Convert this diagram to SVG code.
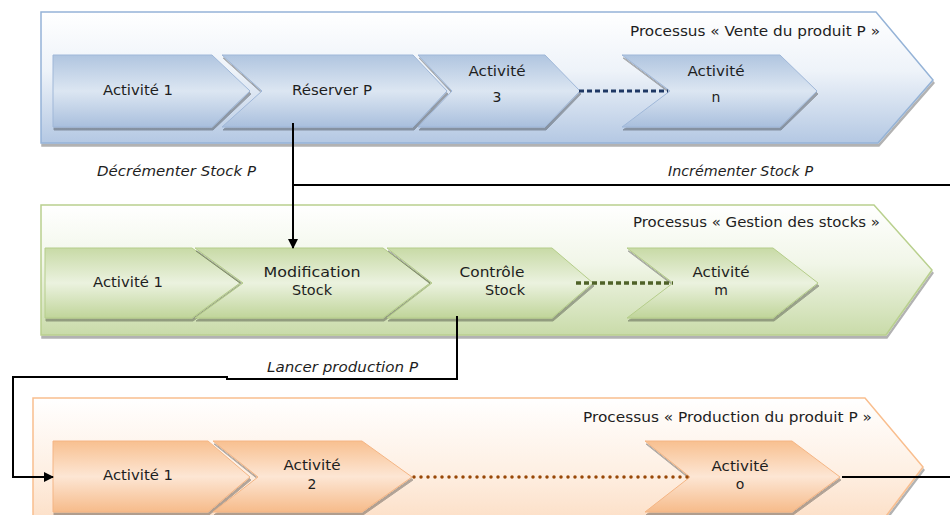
<svg xmlns="http://www.w3.org/2000/svg" width="950" height="515" viewBox="0 0 950 515">
<defs>
<linearGradient id="gBandB" x1="0" y1="0" x2="0" y2="1"><stop offset="0" stop-color="#ffffff"/><stop offset="0.45" stop-color="#eef3f9"/><stop offset="1" stop-color="#b4c8e3"/></linearGradient>
<linearGradient id="gBandG" x1="0" y1="0" x2="0" y2="1"><stop offset="0" stop-color="#ffffff"/><stop offset="0.45" stop-color="#f1f6e8"/><stop offset="1" stop-color="#c9dba9"/></linearGradient>
<linearGradient id="gBandO" x1="0" y1="0" x2="0" y2="1"><stop offset="0" stop-color="#ffffff"/><stop offset="0.5" stop-color="#fef0e4"/><stop offset="1" stop-color="#fcd9bc"/></linearGradient>
<linearGradient id="gChB" x1="0" y1="0" x2="0" y2="1"><stop offset="0" stop-color="#b0c5e0"/><stop offset="0.5" stop-color="#dce6f2"/><stop offset="1" stop-color="#a9bfdd"/></linearGradient>
<linearGradient id="gChG" x1="0" y1="0" x2="0" y2="1"><stop offset="0" stop-color="#c8daa6"/><stop offset="0.5" stop-color="#ebf2df"/><stop offset="1" stop-color="#c0d59a"/></linearGradient>
<linearGradient id="gChO" x1="0" y1="0" x2="0" y2="1"><stop offset="0" stop-color="#f8c090"/><stop offset="0.5" stop-color="#fde6d4"/><stop offset="1" stop-color="#f6bb8a"/></linearGradient>
<filter id="sh" x="-5%" y="-10%" width="110%" height="130%"><feDropShadow dx="1" dy="3" stdDeviation="0.6" flood-color="#000" flood-opacity="0.3"/></filter>
<marker id="ah" viewBox="0 0 10 10" refX="9" refY="5" markerWidth="10" markerHeight="10" markerUnits="userSpaceOnUse" orient="auto"><path d="M0,0 L10,5 L0,10 Z" fill="#000"/></marker>
</defs>
<style>
.bandB{fill:url(#gBandB);stroke:#95b3d7;stroke-width:1.5;filter:url(#sh)}
.bandG{fill:url(#gBandG);stroke:#b9d08e;stroke-width:1.5;filter:url(#sh)}
.bandO{fill:url(#gBandO);stroke:#f9be8e;stroke-width:1.5;filter:url(#sh)}
.chB{fill:url(#gChB);stroke:#9fb7d8;stroke-width:1;filter:url(#sh)}
.chG{fill:url(#gChG);stroke:#b5cd8a;stroke-width:1;filter:url(#sh)}
.chO{fill:url(#gChO);stroke:#f4b584;stroke-width:1;filter:url(#sh)}
text{font-family:"DejaVu Sans","Liberation Sans",sans-serif;font-size:14px;fill:#1e1e1e}
.c{text-anchor:middle}
.t{text-anchor:end}
.lab{font-style:italic}
.conn{fill:none;stroke:#000;stroke-width:2}
</style>

<g id="process-vente">
<path class="bandB" d="M41,12 H876 L933,80 L878,143 H41 Z"/>
<text class="t" x="880" y="36" textLength="250" lengthAdjust="spacingAndGlyphs">Processus « Vente du produit P »</text>
</g>
<g id="v-activite1"><path class="chB" d="M53,55 H212 L250,91 L212,127 H53 Z"/><text class="c" x="138" y="95" textLength="70" lengthAdjust="spacingAndGlyphs">Activité 1</text></g>
<g id="v-reserver"><path class="chB" d="M222,55 H413 L447,91 L413,127 H222 L262,91 Z"/><text class="c" x="332" y="95" textLength="80" lengthAdjust="spacingAndGlyphs">Réserver P</text></g>
<g id="v-activite3"><path class="chB" d="M418,55 H545 L580,91 L545,127 H418 L452,91 Z"/><text class="c" x="497" y="76" textLength="57" lengthAdjust="spacingAndGlyphs">Activité</text><text class="c" x="497" y="102">3</text></g>
<g id="v-activiten"><path class="chB" d="M622,55 H780 L817,91 L780,127 H622 L670,91 Z"/><text class="c" x="716" y="76" textLength="57" lengthAdjust="spacingAndGlyphs">Activité</text><text class="c" x="716" y="102">n</text></g>

<g id="process-stocks">
<path class="bandG" d="M41,205 H874 L932,270 L886,335 H41 Z"/>
<text class="t" x="880" y="227" textLength="247" lengthAdjust="spacingAndGlyphs">Processus « Gestion des stocks »</text>
</g>
<g id="s-activite1"><path class="chG" d="M45,248 H192 L240,283 L192,318 H45 Z"/><text class="c" x="128" y="287" textLength="70" lengthAdjust="spacingAndGlyphs">Activité 1</text></g>
<g id="s-modification"><path class="chG" d="M195,248 H383 L430,283 L383,318 H195 L243,283 Z"/><text class="c" x="312" y="277" textLength="97" lengthAdjust="spacingAndGlyphs">Modification</text><text class="c" x="312" y="295" textLength="40" lengthAdjust="spacingAndGlyphs">Stock</text></g>
<g id="s-controle"><path class="chG" d="M387,248 H552 L593,283 L552,318 H387 L432,283 Z"/><text class="c" x="492" y="277" textLength="65" lengthAdjust="spacingAndGlyphs">Contrôle</text><text class="c" x="505" y="295" textLength="40" lengthAdjust="spacingAndGlyphs">Stock</text></g>
<g id="s-activitem"><path class="chG" d="M627,248 H773 L818,283 L773,318 H627 L673,283 Z"/><text class="c" x="721" y="277" textLength="57" lengthAdjust="spacingAndGlyphs">Activité</text><text class="c" x="721" y="295">m</text></g>

<g id="process-production">
<path class="bandO" d="M33,398 H865 L923,467 L868,540 H33 Z"/>
<text class="t" x="872" y="422" textLength="289" lengthAdjust="spacingAndGlyphs">Processus « Production du produit P »</text>
</g>
<g id="p-activite1"><path class="chO" d="M53,441 H208 L250,477 L208,512 H53 Z"/><text class="c" x="138" y="480" textLength="70" lengthAdjust="spacingAndGlyphs">Activité 1</text></g>
<g id="p-activite2"><path class="chO" d="M213,441 H362 L412,477 L362,512 H213 L258,477 Z"/><text class="c" x="312" y="470" textLength="57" lengthAdjust="spacingAndGlyphs">Activité</text><text class="c" x="312" y="489">2</text></g>
<g id="p-activiteo"><path class="chO" d="M645,441 H792 L840,477 L792,512 H645 L690,477 Z"/><text class="c" x="740" y="471" textLength="57" lengthAdjust="spacingAndGlyphs">Activité</text><text class="c" x="740" y="489">o</text></g>

<g id="connectors">
<line x1="579" y1="91" x2="668" y2="91" stroke="#1f3864" stroke-width="3" stroke-dasharray="5,3"/>
<line x1="576" y1="283" x2="673" y2="283" stroke="#4f6228" stroke-width="3.5" stroke-dasharray="5,3"/>
<line x1="414" y1="477" x2="690" y2="477" stroke="#984807" stroke-width="3.5" stroke-linecap="round" stroke-dasharray="0,7"/>
<path class="conn" d="M293,123 V248" marker-end="url(#ah)"/>
<path class="conn" d="M950,185 H293"/>
<path class="conn" d="M457,316 V379 H227 V377 H13 V477 H53" marker-end="url(#ah)"/>
<path class="conn" d="M842,477 H950"/>
<text class="lab" x="97" y="176" textLength="159" lengthAdjust="spacingAndGlyphs">Décrémenter Stock P</text>
<text class="lab" x="668" y="176" textLength="145" lengthAdjust="spacingAndGlyphs">Incrémenter Stock P</text>
<text class="lab" x="267" y="372" textLength="151" lengthAdjust="spacingAndGlyphs">Lancer production P</text>
</g>
</svg>
